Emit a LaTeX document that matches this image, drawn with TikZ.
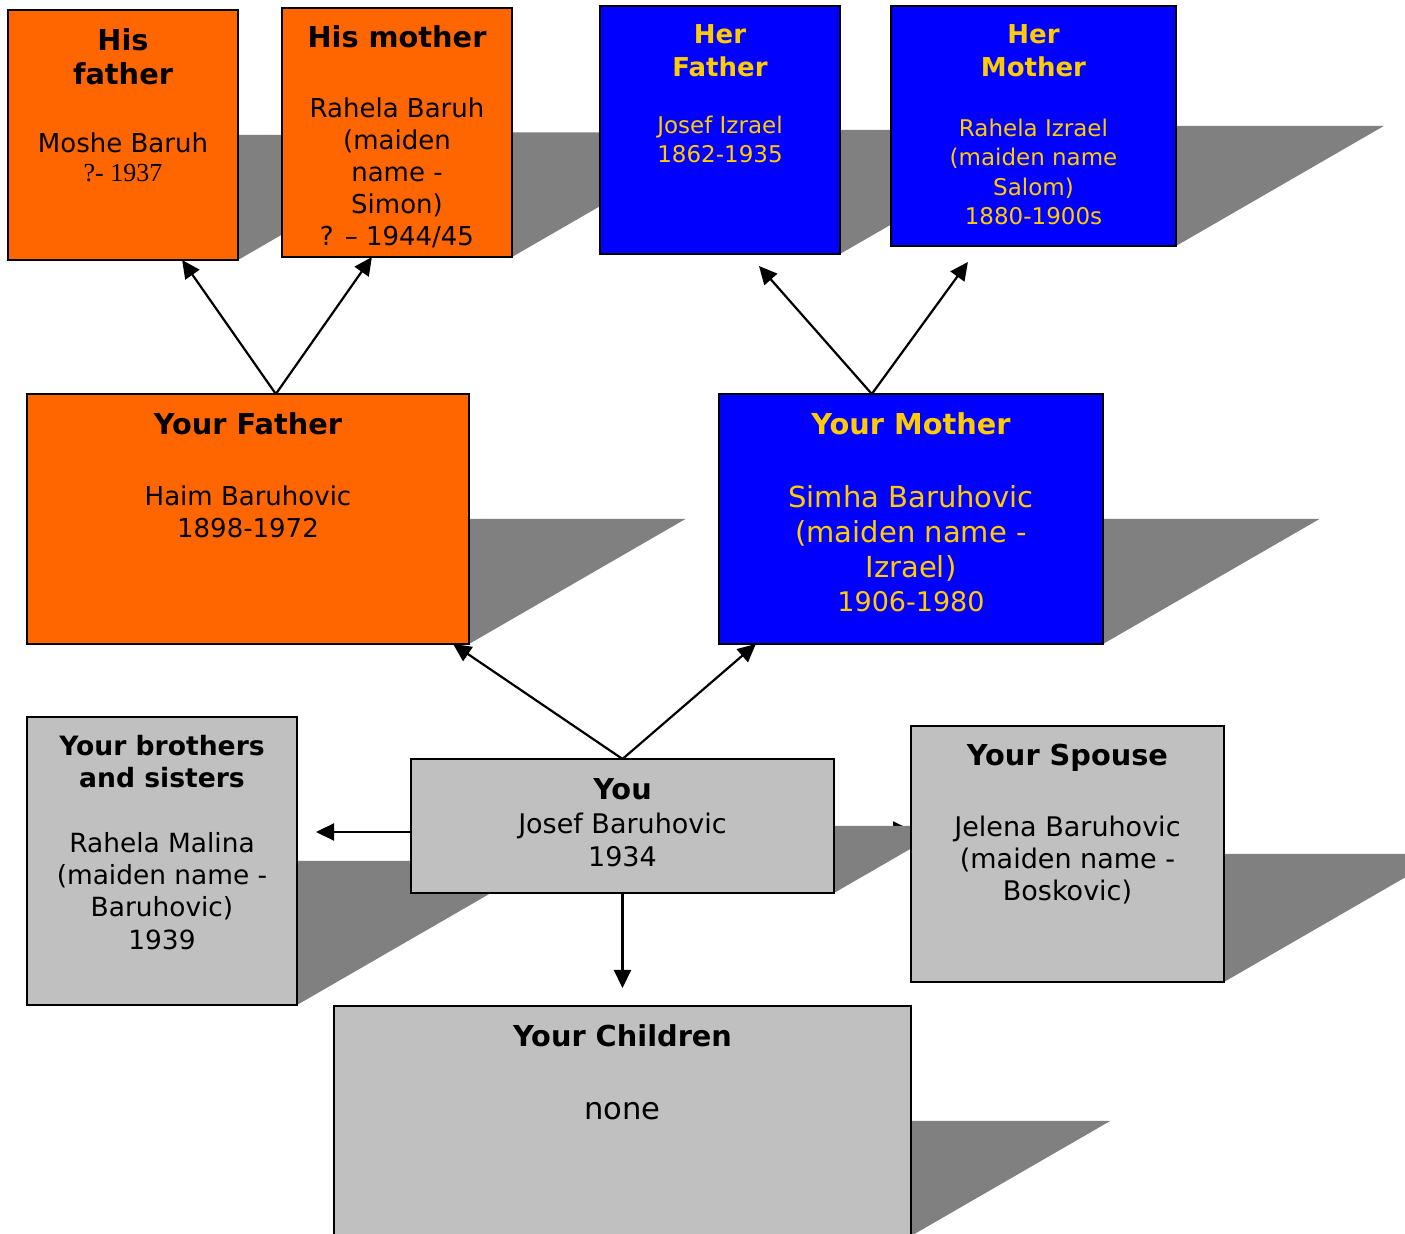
\documentclass[tikz,border=0pt]{standalone}
\usepackage{fontspec}
\setmainfont{DejaVu Sans}
\newfontfamily\tnr{Liberation Serif}
\usetikzlibrary{calc,arrows.meta}
\pgfdeclarelayer{under}
\pgfdeclarelayer{shade}
\pgfsetlayers{under,shade,main}
\definecolor{orangebox}{HTML}{FF6600}
\definecolor{bluebox}{HTML}{0000FF}
\definecolor{graybox}{HTML}{C0C0C0}
\definecolor{shadowgray}{HTML}{808080}
\definecolor{goldtext}{HTML}{FFCC00}
\begin{document}
\begin{tikzpicture}[x=0.5pt,y=-0.5pt,
  box/.style={draw=black, line width=1pt, inner sep=0pt, outer sep=0pt, rectangle},
  obox/.style={box, fill=orangebox},
  bbox/.style={box, fill=bluebox},
  gbox/.style={box, fill=graybox},
  txt/.style={anchor=base, inner sep=0pt, outer sep=0pt},
  ttl/.style={txt, font=\bfseries\fontsize{14.4}{17}\selectfont},
  gold/.style={text=goldtext},
  link/.style={line width=1.1pt, -{Triangle[length=9pt,width=8.5pt]}},
]
\useasboundingbox (0,0) rectangle (1405,1234);

% boxes
\node[obox, minimum width=115pt, minimum height=125pt] (hf) at (123,135) {};
\node[obox, minimum width=115pt, minimum height=124.5pt] (hm) at (397,132.5) {};
\node[bbox, minimum width=120pt, minimum height=124pt] (hF) at (720,130) {};
\node[bbox, minimum width=142.5pt, minimum height=120pt] (hM) at (1033.5,126) {};
\node[obox, minimum width=221pt, minimum height=125pt] (yf) at (248,519) {};
\node[bbox, minimum width=192pt, minimum height=125pt] (yM) at (911,519) {};
\node[gbox, minimum width=135pt, minimum height=144pt] (br) at (162,861) {};
\node[gbox, minimum width=211.5pt, minimum height=67pt] (you) at (622.5,826) {};
\node[gbox, minimum width=156.5pt, minimum height=128pt] (sp) at (1067.5,854) {};
\node[gbox, minimum width=288.5pt, minimum height=115pt] (ch) at (622.5,1121) {};

% shadows
\begin{pgfonlayer}{shade}
\foreach \n in {hf,hm,hF,hM,yf,yM,br,you,sp,ch}
  \fill[shadowgray] (\n.east) -- ($(\n.east)!1.732!90:(\n.south east)$) -- (\n.south east) -- cycle;
\end{pgfonlayer}

% spouse arrow, hidden under the shadow of "You"
\begin{pgfonlayer}{under}
\draw[link] ($(you.east)+(0,4)$) -- ($(you.east -| sp.west)+(0,4)$);
\end{pgfonlayer}

% connectors
\draw[link] ($(yf.north west)!0.563!(yf.north east)$) -- ($(hf.south west)!0.757!(hf.south east)$);
\draw[link] ($(yf.north west)!0.563!(yf.north east)$) -- ($(hm.south west)!0.391!(hm.south east)$);
\draw[link] ($(yM.north west)!0.398!(yM.north east)$) -- ($(hF.south west)!0.6625!(hF.south east)+(0,12)$);
\draw[link] ($(yM.north west)!0.398!(yM.north east)$) -- ($(hM.south west)!0.27!(hM.south east)+(0,16)$);
\draw[link] (you.north) -- ($(yf.south west)!0.964!(yf.south east)$);
\draw[link] (you.north) -- ($(yM.south west)!0.096!(yM.south east)$);
\draw[link] ($(you.west)+(0,6)$) -- ($(you.west -| br.east)+(19,6)$);
\draw[link] (you.south) -- ($(ch.north)+(0,-18)$);

% texts: His father
\node[ttl] (hf1) at (123,51) {His};
\node[ttl] (hf2) at (123,85) {father};
\node[txt, font=\fontsize{13}{16}\selectfont] (hf3) at (123,153) {Moshe Baruh};
\node[txt, font=\tnr\fontsize{13}{15}\selectfont] (hf4) at (123,182) {?- 1937};

% His mother
\node[ttl] (hm1) at (397,48) {His mother};
\node[txt, font=\fontsize{13}{16}\selectfont] (hm2) at (397,118) {Rahela Baruh};
\node[txt, font=\fontsize{13}{16}\selectfont] (hm3) at (397,150) {(maiden};
\node[txt, font=\fontsize{13}{16}\selectfont] (hm4) at (397,182) {name -};
\node[txt, font=\fontsize{13}{16}\selectfont] (hm5) at (397,214) {Simon)};
\node[txt, font=\fontsize{13}{16}\selectfont] (hm6) at (397,246) {? – 1944/45};

% Her Father
\node[ttl, gold, font=\bfseries\fontsize{13}{16}\selectfont] (hF1) at (720,44) {Her};
\node[ttl, gold, font=\bfseries\fontsize{13}{16}\selectfont] (hF2) at (720,77) {Father};
\node[txt, gold, font=\fontsize{11.5}{14}\selectfont] (hF3) at (720,134) {Josef Izrael};
\node[txt, gold, font=\fontsize{11.5}{14}\selectfont] (hF4) at (720,163) {1862-1935};

% Her Mother
\node[ttl, gold, font=\bfseries\fontsize{13}{16}\selectfont] (hM1) at (1033.5,44) {Her};
\node[ttl, gold, font=\bfseries\fontsize{13}{16}\selectfont] (hM2) at (1033.5,77) {Mother};
\node[txt, gold, font=\fontsize{11.5}{14}\selectfont] (hM3) at (1033.5,137) {Rahela Izrael};
\node[txt, gold, font=\fontsize{11.5}{14}\selectfont] (hM4) at (1033.5,166) {(maiden name};
\node[txt, gold, font=\fontsize{11.5}{14}\selectfont] (hM5) at (1033.5,196) {Salom)};
\node[txt, gold, font=\fontsize{11.5}{14}\selectfont] (hM6) at (1033.5,225) {1880-1900s};

% Your Father
\node[ttl] (yf1) at (248,435) {Your Father};
\node[txt, font=\fontsize{13}{16}\selectfont] (yf2) at (248,506) {Haim Baruhovic};
\node[txt, font=\fontsize{13}{16}\selectfont] (yf3) at (248,538) {1898-1972};

% Your Mother
\node[ttl, gold] (yM1) at (911,435) {Your Mother};
\node[txt, gold, font=\fontsize{14.5}{17}\selectfont] (yM2) at (911,508) {Simha Baruhovic};
\node[txt, gold, font=\fontsize{14.5}{17}\selectfont] (yM3) at (911,543) {(maiden name -};
\node[txt, gold, font=\fontsize{14.5}{17}\selectfont] (yM4) at (911,578) {Izrael)};
\node[txt, gold, font=\fontsize{13.5}{16}\selectfont] (yM5) at (911,612) {1906-1980};

% Brothers and sisters
\node[ttl, font=\bfseries\fontsize{13.3}{16}\selectfont] (br1) at (162,756) {Your brothers};
\node[ttl, font=\bfseries\fontsize{13.3}{16}\selectfont] (br2) at (162,788) {and sisters};
\node[txt, font=\fontsize{13.2}{16}\selectfont] (br3) at (162,853) {Rahela Malina};
\node[txt, font=\fontsize{13.2}{16}\selectfont] (br4) at (162,885) {(maiden name -};
\node[txt, font=\fontsize{13.2}{16}\selectfont] (br5) at (162,917) {Baruhovic)};
\node[txt, font=\fontsize{13.2}{16}\selectfont] (br6) at (162,950) {1939};

% You
\node[ttl] (you1) at (622.5,800) {You};
\node[txt, font=\fontsize{13.5}{16}\selectfont] (you2) at (622.5,834) {Josef Baruhovic};
\node[txt, font=\fontsize{13.5}{16}\selectfont] (you3) at (622.5,867) {1934};

% Spouse
\node[ttl] (sp1) at (1067.5,766) {Your Spouse};
\node[txt, font=\fontsize{13.5}{16}\selectfont] (sp2) at (1067.5,837) {Jelena Baruhovic};
\node[txt, font=\fontsize{13.5}{16}\selectfont] (sp3) at (1067.5,869) {(maiden name -};
\node[txt, font=\fontsize{13.5}{16}\selectfont] (sp4) at (1067.5,901) {Boskovic)};

% Children
\node[ttl] (ch1) at (622.5,1047) {Your Children};
\node[txt, font=\fontsize{15.3}{18}\selectfont] (ch2) at (622.5,1120) {none};
\end{tikzpicture}
\end{document}
